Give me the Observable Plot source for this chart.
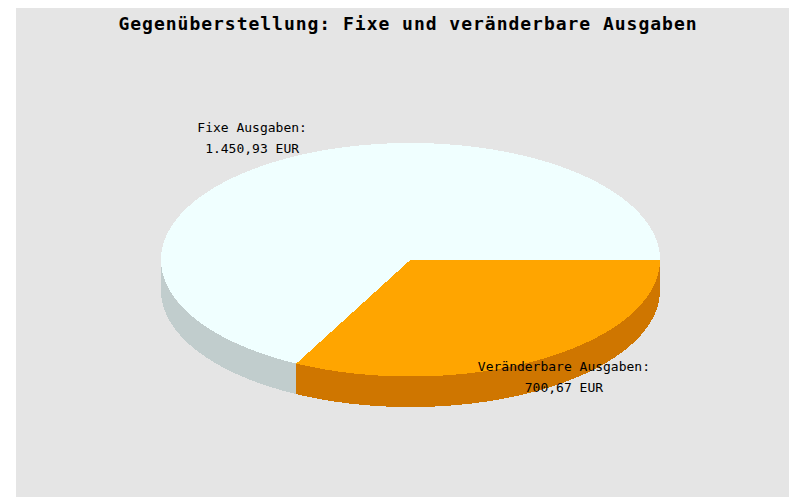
<!DOCTYPE html>
<html lang="de">
<head>
<meta charset="utf-8">
<script src="https://cdn.jsdelivr.net/npm/d3@7"></script>
<script src="https://cdn.jsdelivr.net/npm/@observablehq/plot@0.6"></script>
<style>
  html, body { margin: 0; background: #ffffff; }
  svg { display: block; margin: 8px 0 0 16px; }
</style>
</head>
<body>
<script>
const titleText = "Gegenüberstellung: Fixe und veränderbare Ausgaben";
const categories = ["Veränderbare Ausgaben", "Fixe Ausgaben"];
const values = [700.67, 1450.93];
const valueLabels = ["700,67 EUR", "1.450,93 EUR"];
const topColors = ["#ffa500", "#f0ffff"];
const sideColors = ["#cf7600", "#c1cdcd"];
const depth = 0.2618;      // rim thickness, in units of the vertical radius
const labelRadius = 1.2;

const rad = d => d * Math.PI / 180;
const total = d3.sum(values);
let start = 0;
const slices = categories.map((name, i) => {
  const a0 = start, a1 = start + values[i] / total * 360;
  start = a1;
  return {name, a0, a1, mid: (a0 + a1) / 2, i};
});

function arcPoints(a0, a1, dy = 0) {
  const n = Math.max(2, Math.ceil(Math.abs(a1 - a0)));
  return d3.range(n + 1).map(k => {
    const a = rad(a0 + (a1 - a0) * k / n);
    return {x: Math.cos(a), y: Math.sin(a) + dy};
  });
}

// top faces: centre + arc
const tops = slices.map(s => [{x: 0, y: 0}, ...arcPoints(s.a0, s.a1), {x: 0, y: 0}]);

// rims: only the front half (0..180 degrees) is visible
const rims = slices.map(s => {
  const a0 = Math.min(s.a0, 180), a1 = Math.min(s.a1, 180);
  return a1 > a0 ? [...arcPoints(a0, a1), ...arcPoints(a1, a0, depth)] : [];
});

const labels = slices.map(s => ({
  x: labelRadius * Math.cos(rad(s.mid)),
  y: labelRadius * Math.sin(rad(s.mid)),
  text: `${s.name}:\n${valueLabels[s.i]}`
}));

const poly = (points, fill) => Plot.line(points, {
  x: "x", y: "y", fill, stroke: "none", shapeRendering: "crispEdges"
});

const chart = Plot.plot({
  width: 773,
  height: 489,
  margin: 0,
  style: {background: "#e5e5e5", color: "#000000"},
  x: {domain: [-1, 1], range: [144.5, 643.5], axis: null},
  y: {domain: [-1, 1], range: [134.5, 368], axis: null},
  marks: [
    ...rims.map((r, i) => poly(r, sideColors[i])),
    ...tops.map((t, i) => poly(t, topColors[i])),
    Plot.text(labels, {
      x: "x", y: "y", text: "text", dx: -2.5, dy: -4.5,
      fontFamily: "DejaVu Sans Mono", fontSize: 13, lineHeight: 1.62, fill: "#000000"
    }),
    Plot.text([titleText], {
      frameAnchor: "top", dx: 5, dy: 9,
      fontFamily: "DejaVu Sans Mono", fontSize: 18, fontWeight: "bold", fill: "#000000"
    })
  ]
});
d3.select(chart).selectAll("text")
  .filter(function () { return this.textContent === titleText; })
  .style("letter-spacing", "0.98px");
document.body.appendChild(chart);
</script>
</body>
</html>
